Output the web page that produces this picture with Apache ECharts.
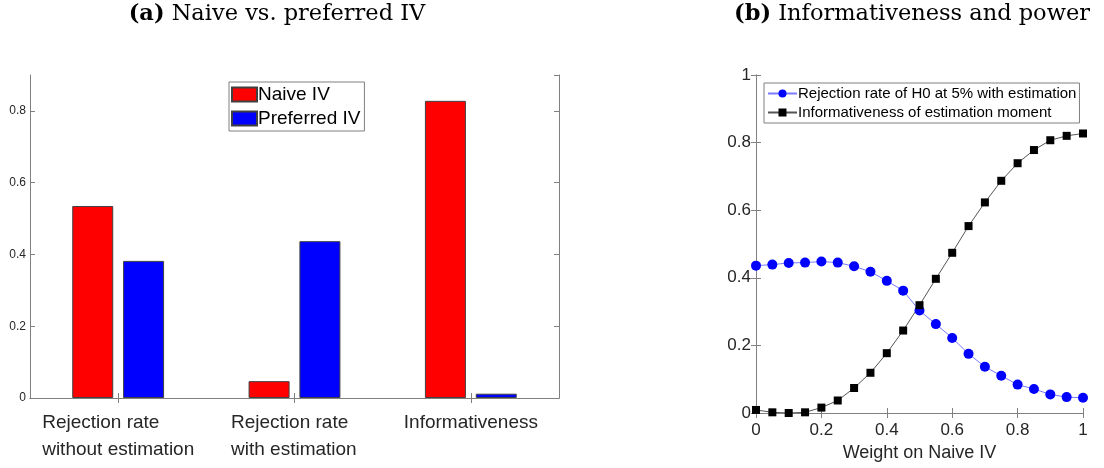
<!DOCTYPE html>
<html>
<head>
<meta charset="utf-8">
<script src="https://cdn.jsdelivr.net/npm/echarts@6/dist/echarts.min.js"></script>
<style>
html,body{margin:0;padding:0;background:#fff;}
#main{width:1104px;height:468px;}
</style>
</head>
<body>
<div id="main"></div>
<script>
// ---- Panel (a) data ----
const categories = ['Rejection rate\nwithout estimation', 'Rejection rate\nwith estimation', 'Informativeness'];
const naiveIV = [0.535, 0.047, 0.828];
const preferredIV = [0.382, 0.437, 0.012];

// ---- Panel (b) data ----
const weights = [0, 0.05, 0.1, 0.15, 0.2, 0.25, 0.3, 0.35, 0.4, 0.45, 0.5, 0.55, 0.6, 0.65, 0.7, 0.75, 0.8, 0.85, 0.9, 0.95, 1];
const rejectionRate = [0.436, 0.439, 0.444, 0.445, 0.448, 0.445, 0.434, 0.418, 0.391, 0.362, 0.303, 0.263, 0.222, 0.175, 0.137, 0.110, 0.084, 0.071, 0.055, 0.047, 0.045];
const informativeness = [0.009, 0.002, 0.000, 0.002, 0.016, 0.037, 0.074, 0.119, 0.177, 0.244, 0.319, 0.397, 0.474, 0.553, 0.623, 0.687, 0.739, 0.778, 0.807, 0.820, 0.827];

const AX = '#808080';
const TXT = '#262626';
const SANS = 'Liberation Sans, Arial, sans-serif';
const SERIF = 'DejaVu Serif, serif';

const labelWidths = [152, 127, 134];

const chart = echarts.init(document.getElementById('main'), null, {renderer: 'canvas'});

const tickInside = {show: true, inside: true, length: 5, lineStyle: {color: AX, width: 1}};
const lineAx = {show: true, lineStyle: {color: AX, width: 1}};

function titleStyle(size) {
  return {fontFamily: SERIF, fontSize: size, fontWeight: 'normal', color: '#000',
    rich: {b: {fontFamily: SERIF, fontSize: size, fontWeight: 'bold', color: '#000'}}};
}

chart.setOption({
  animation: false,
  backgroundColor: '#fff',
  title: [
    {text: '{b|(a)} Naive vs. preferred IV', left: 277, top: 3, textAlign: 'center', padding: 0, textStyle: titleStyle(22.5)},
    {text: '{b|(b)} Informativeness and power', left: 912, top: 3, textAlign: 'center', padding: 0, textStyle: titleStyle(22.5)}
  ],
  legend: [
    {
      data: ['Naive IV', 'Preferred IV'],
      orient: 'vertical', left: 229, top: 82, icon: 'rect',
      itemWidth: 25, itemHeight: 14, itemGap: 5,
      padding: [3, 4, 3, 2],
      borderColor: AX, borderWidth: 1,
      textStyle: {fontFamily: SANS, fontSize: 19, lineHeight: 19, color: '#000', padding: [0, 0, 0, -4]}
    },
    {
      data: ['Rejection rate of H0 at 5% with estimation', 'Informativeness of estimation moment'],
      orient: 'vertical', left: 764, top: 83,
      itemWidth: 29, itemHeight: 10, itemGap: 4,
      padding: [3, 3, 3, 3],
      borderColor: AX, borderWidth: 1,
      textStyle: {fontFamily: SANS, fontSize: 15, lineHeight: 15, color: '#000', padding: [0, 0, 0, -4]}
    }
  ],
  grid: [
    {left: 30, top: 75, width: 529, height: 323, containLabel: false},
    {left: 756, top: 75, width: 327, height: 338, containLabel: false}
  ],
  xAxis: [
    {
      type: 'category', gridIndex: 0, data: categories, position: 'bottom',
      axisLine: lineAx,
      axisTick: Object.assign({alignWithLabel: true, interval: 0}, tickInside),
      axisLabel: {
        interval: 0, margin: 11, color: TXT, fontFamily: SANS, fontSize: 19, lineHeight: 27,
        formatter: function (v, i) {
          return v.split('\n').map(function (l) { return '{w' + i + '|' + l + '}'; }).join('\n');
        },
        rich: {
          w0: {width: labelWidths[0], align: 'left', fontFamily: SANS, fontSize: 19, lineHeight: 27, color: TXT},
          w1: {width: labelWidths[1], align: 'left', fontFamily: SANS, fontSize: 19, lineHeight: 27, color: TXT},
          w2: {width: labelWidths[2], align: 'left', fontFamily: SANS, fontSize: 19, lineHeight: 27, color: TXT}
        }
      },
      splitLine: {show: false}
    },
    {
      type: 'category', gridIndex: 0, data: categories, position: 'top',
      axisLine: lineAx,
      axisTick: Object.assign({alignWithLabel: true, interval: 0}, tickInside),
      axisLabel: {show: false}, splitLine: {show: false}
    },
    {
      type: 'value', gridIndex: 1, min: 0, max: 1, interval: 0.2, position: 'bottom',
      name: 'Weight on Naive IV', nameLocation: 'middle', nameGap: 30,
      nameTextStyle: {fontFamily: SANS, fontSize: 18, color: TXT},
      axisLine: lineAx, axisTick: tickInside,
      axisLabel: {margin: 9, color: TXT, fontFamily: SANS, fontSize: 17},
      splitLine: {show: false}
    },
    {
      type: 'value', gridIndex: 1, min: 0, max: 1, interval: 0.2, position: 'top',
      axisLine: lineAx, axisTick: tickInside,
      axisLabel: {show: false}, splitLine: {show: false}
    }
  ],
  yAxis: [
    {
      type: 'value', gridIndex: 0, min: 0, max: 0.9, interval: 0.2, position: 'left',
      axisLine: lineAx, axisTick: tickInside,
      axisLabel: {margin: 4, color: TXT, fontFamily: SANS, fontSize: 12, showMaxLabel: false},
      splitLine: {show: false}
    },
    {
      type: 'value', gridIndex: 0, min: 0, max: 0.9, interval: 0.2, position: 'right',
      axisLine: lineAx, axisTick: tickInside,
      axisLabel: {show: false}, splitLine: {show: false}
    },
    {
      type: 'value', gridIndex: 1, min: 0, max: 1, interval: 0.2, position: 'left',
      axisLine: lineAx, axisTick: tickInside,
      axisLabel: {margin: 5, color: TXT, fontFamily: SANS, fontSize: 17},
      splitLine: {show: false}
    },
    {
      type: 'value', gridIndex: 1, min: 0, max: 1, interval: 0.2, position: 'right',
      axisLine: lineAx, axisTick: tickInside,
      axisLabel: {show: false}, splitLine: {show: false}
    }
  ],
  series: [
    {
      name: 'Naive IV', type: 'bar', xAxisIndex: 0, yAxisIndex: 0,
      data: naiveIV, barWidth: 41, barGap: '24%',
      itemStyle: {color: '#ff0000', borderColor: '#404040', borderWidth: 1}
    },
    {
      name: 'Preferred IV', type: 'bar', xAxisIndex: 0, yAxisIndex: 0,
      data: preferredIV, barWidth: 41, barGap: '24%',
      itemStyle: {color: '#0000ff', borderColor: '#404040', borderWidth: 1}
    },
    {
      name: 'Rejection rate of H0 at 5% with estimation', type: 'line', xAxisIndex: 2, yAxisIndex: 2,
      data: weights.map(function (w, i) { return [w, rejectionRate[i]]; }),
      symbol: 'circle', symbolSize: 10, showAllSymbol: true,
      itemStyle: {color: '#0000ff'},
      lineStyle: {color: '#7a7aff', width: 1}
    },
    {
      name: 'Informativeness of estimation moment', type: 'line', xAxisIndex: 2, yAxisIndex: 2,
      data: weights.map(function (w, i) { return [w, informativeness[i]]; }),
      symbol: 'rect', symbolSize: 8, showAllSymbol: true,
      itemStyle: {color: '#000000'},
      lineStyle: {color: '#555555', width: 1}
    }
  ]
});
</script>
</body>
</html>
